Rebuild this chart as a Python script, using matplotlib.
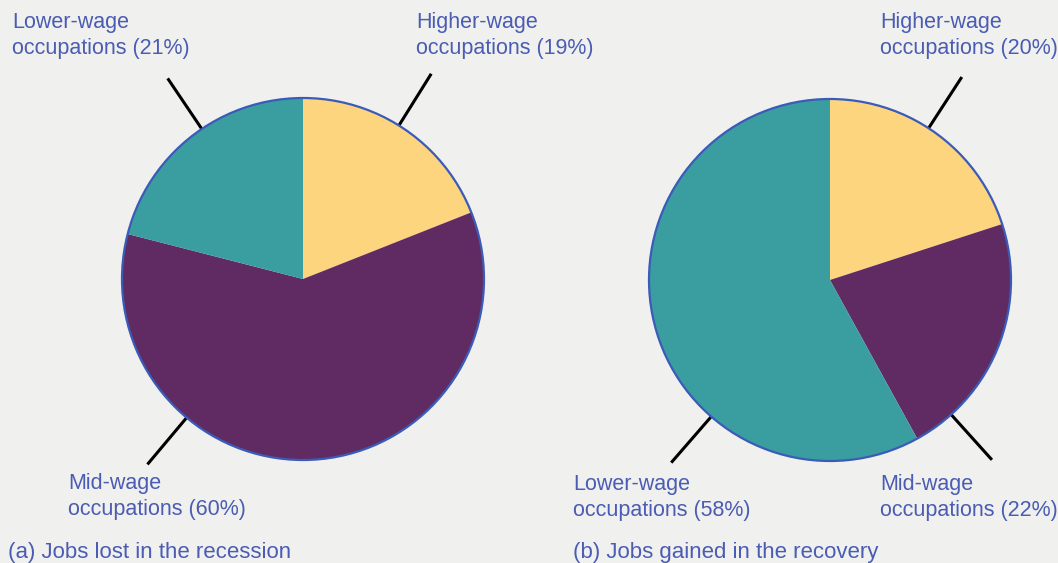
import numpy as np
import matplotlib.pyplot as plt
from matplotlib.patches import Circle

# data
categories = ['Higher-wage', 'Mid-wage', 'Lower-wage']
lost_shares = [19, 60, 21]
gained_shares = [20, 22, 58]
captions = ['(a) Jobs lost in the recession', '(b) Jobs gained in the recovery']

colors = ['#FED57F', '#5F2B62', '#3A9EA0']
text_col = '#4A5CB3'
edge_col = '#3A5BB8'
bg = '#F0F0EE'

W, H = 1058, 563
plt.rcParams['font.family'] = ['Liberation Sans', 'DejaVu Sans']

fig = plt.figure(figsize=(W / 100, H / 100), dpi=100, facecolor=bg)
ax = fig.add_axes([0, 0, 1, 1])
ax.set_facecolor(bg)

R = 181
pies = [
    # center (pixels, y from top), shares, leader angles, label positions (x, last baseline)
    dict(c=(303, 279), vals=lost_shares, ang=[58, -130, 124],
         pos=[(416, 54), (68, 515), (12, 54)], cap=(8, 558)),
    dict(c=(830, 280), vals=gained_shares, ang=[57, -48, -131],
         pos=[(880, 54), (880, 516), (573, 516)], cap=(573, 558)),
]

for i, p in enumerate(pies):
    cx, cy = p['c'][0], H - p['c'][1]
    ax.pie(p['vals'], colors=colors, startangle=90, counterclock=False,
           center=(cx, cy), radius=R, wedgeprops=dict(linewidth=0))
    ax.add_patch(Circle((cx, cy), R, fill=False, edgecolor=edge_col, lw=1.6, zorder=5))
    for name, v, a, (tx, ty) in zip(categories, p['vals'], p['ang'], p['pos']):
        t = np.deg2rad(a)
        ax.plot([cx + R * np.cos(t), cx + 242 * np.cos(t)],
                [cy + R * np.sin(t), cy + 242 * np.sin(t)],
                color='black', lw=2.2, solid_capstyle='butt', zorder=4)
        ax.text(tx, H - ty, f'{name}\noccupations ({v}%)', color=text_col,
                fontsize=15.5, ha='left', va='baseline', linespacing=1.33)
    ax.text(p['cap'][0], H - p['cap'][1], captions[i], color=text_col,
            fontsize=16, ha='left', va='baseline')

ax.set_xlim(0, W)
ax.set_ylim(0, H)
ax.set_aspect('auto')
ax.axis('off')

fig.savefig('out.png', dpi=100, facecolor=bg)
